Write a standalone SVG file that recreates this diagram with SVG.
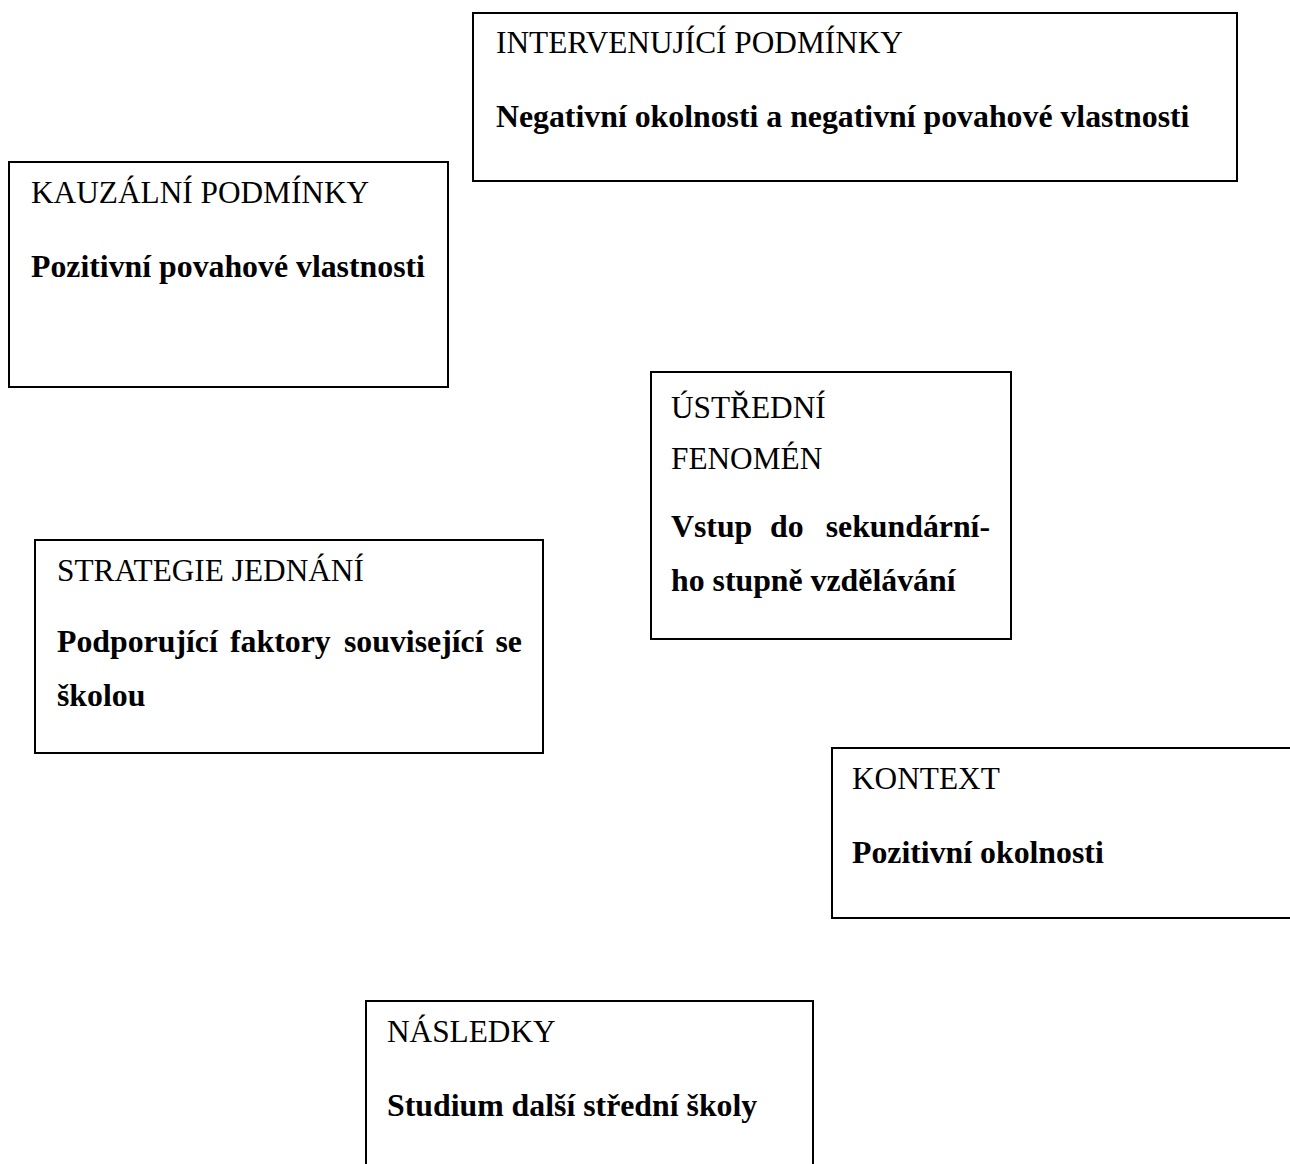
<svg xmlns="http://www.w3.org/2000/svg" width="1290" height="1164" viewBox="0 0 1290 1164">
<style>
rect.box{fill:#fff;stroke:#000;stroke-width:2}
text{font-family:"Liberation Serif","Times New Roman",serif;fill:#000}
.cap{font-size:31.3px}
.b{font-size:31.8px;font-weight:bold}
</style>
<rect width="1290" height="1164" fill="#fff"/>
<g id="connectors"></g>
<g id="intervenujici">
<rect class="box" x="473" y="13" width="764" height="168"/>
<text class="cap" x="496" y="53">INTERVENUJÍCÍ PODMÍNKY</text>
<text class="b" x="496" y="127">Negativní okolnosti a negativní povahové vlastnosti</text>
</g>
<g id="kauzalni">
<rect class="box" x="9" y="162" width="439" height="225"/>
<text class="cap" x="31" y="203">KAUZÁLNÍ PODMÍNKY</text>
<text class="b" x="31" y="277">Pozitivní povahové vlastnosti</text>
</g>
<g id="ustredni">
<rect class="box" x="651" y="372" width="360" height="267"/>
<text class="cap" x="671" y="418">ÚSTŘEDNÍ</text>
<text class="cap" x="671" y="469">FENOMÉN</text>
<text class="b" y="537"><tspan x="671">Vstup</tspan><tspan x="770">do</tspan><tspan x="990" text-anchor="end">sekundární-</tspan></text>
<text class="b" x="671" y="591">ho stupně vzdělávání</text>
</g>
<g id="strategie">
<rect class="box" x="35" y="540" width="508" height="213"/>
<text class="cap" x="57" y="581">STRATEGIE JEDNÁNÍ</text>
<text class="b" y="652"><tspan x="57">Podporující</tspan><tspan x="230">faktory</tspan><tspan x="344">související</tspan><tspan x="522" text-anchor="end">se</tspan></text>
<text class="b" x="57" y="706">školou</text>
</g>
<g id="kontext">
<rect class="box" x="832" y="748" width="470" height="170"/>
<text class="cap" x="852" y="789">KONTEXT</text>
<text class="b" x="852" y="863">Pozitivní okolnosti</text>
</g>
<g id="nasledky">
<rect class="box" x="366" y="1001" width="447" height="180"/>
<text class="cap" x="387" y="1042">NÁSLEDKY</text>
<text class="b" x="387" y="1116">Studium další střední školy</text>
</g>
</svg>
